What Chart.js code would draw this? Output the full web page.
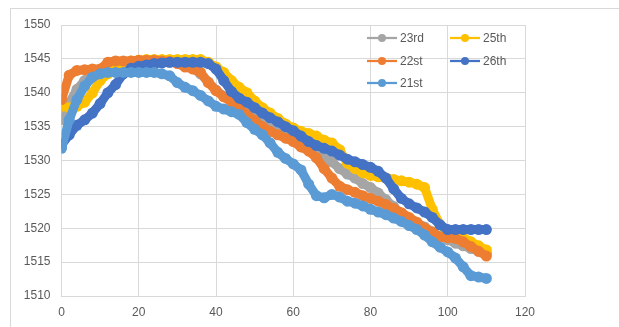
<!DOCTYPE html>
<html>
<head>
<meta charset="utf-8">
<script src="https://cdn.jsdelivr.net/npm/chart.js@4.4.1/dist/chart.umd.min.js"></script>
<style>
  html, body { margin: 0; padding: 0; background: #fff; }
  #wrap { position: relative; width: 619px; height: 327px; overflow: hidden; }
  #frame { position: absolute; left: 10px; top: 8px; width: 700px; height: 400px;
           border-top: 1px solid #d9d9d9; border-left: 1px solid #d9d9d9; }
  canvas { position: absolute; left: 0; top: 0; }
</style>
</head>
<body>
<div id="wrap">
  <div id="frame"></div>
  <canvas id="c" width="619" height="327"></canvas>
</div>
<script>
// x positions (shared by all series)
const xValues = [0,2,4,6,8,10,12,14,16,18,20,22,24,26,28,30,32,34,36,38,40,42,44,46,48,50,52,54,56,58,60,62,64,66,68,70,72,74,76,78,80,82,84,86,88,90,92,94,96,98,100,102,104,106,108,110];

const seriesNames = ['23rd', '25th', '22st', '26th', '21st'];

const s23rd = [1536.0,1538.5,1540.5,1541.8,1542.5,1543.2,1544.0,1544.4,1544.5,1544.5,1544.5,1544.5,1544.5,1544.5,1544.5,1544.5,1544.2,1543.6,1542.8,1541.6,1540.4,1539.5,1538.7,1537.8,1537.0,1536.2,1535.4,1534.7,1534.1,1533.5,1533.0,1532.4,1531.8,1531.2,1530.4,1529.8,1528.8,1528.0,1527.4,1526.6,1526.0,1525.2,1524.2,1523.2,1522.2,1521.3,1520.8,1520.2,1519.5,1518.8,1518.3,1517.8,1517.4,1517.0,1516.6,1516.3];

const s25th = [1538.0,1537.8,1538.0,1538.6,1540.0,1541.8,1542.8,1543.8,1544.4,1544.7,1544.8,1544.9,1544.9,1544.9,1544.9,1544.9,1544.9,1544.9,1544.9,1544.5,1543.8,1543.0,1541.8,1540.8,1540.0,1538.8,1537.8,1537.0,1536.2,1535.4,1534.8,1534.3,1534.0,1533.6,1533.0,1532.6,1531.6,1529.6,1528.8,1528.2,1527.8,1527.6,1527.4,1527.2,1527.0,1526.8,1526.5,1526.0,1522.8,1520.5,1519.6,1519.2,1518.6,1518.0,1517.4,1516.8];

const s22st = [1539.0,1542.6,1543.3,1543.4,1543.5,1543.5,1544.5,1544.7,1544.7,1544.7,1544.8,1544.8,1544.8,1544.7,1544.6,1544.3,1543.8,1543.5,1543.0,1541.5,1540.3,1539.4,1538.6,1537.6,1536.8,1535.9,1535.0,1534.3,1533.8,1533.3,1532.8,1532.0,1531.4,1530.4,1528.8,1527.4,1526.2,1525.7,1525.3,1524.8,1524.4,1524.0,1523.5,1522.9,1522.3,1521.6,1520.9,1520.0,1519.4,1518.7,1518.6,1518.5,1518.0,1517.3,1516.6,1515.9];

const s26th = [1532.3,1533.8,1535.2,1536.0,1537.0,1538.4,1540.0,1541.2,1542.8,1543.6,1543.9,1544.1,1544.3,1544.4,1544.5,1544.5,1544.5,1544.5,1544.5,1544.3,1543.5,1541.8,1540.2,1539.2,1538.6,1537.8,1537.0,1536.3,1535.7,1535.0,1534.4,1533.6,1532.8,1532.2,1531.8,1531.4,1530.8,1530.2,1529.8,1529.4,1529.0,1528.4,1527.4,1525.8,1524.4,1523.6,1523.0,1522.4,1521.6,1520.5,1519.8,1519.8,1519.8,1519.8,1519.8,1519.8];

const s21st = [1531.8,1536.0,1539.0,1541.0,1542.3,1542.8,1543.0,1543.0,1543.0,1543.0,1543.0,1543.0,1543.0,1542.8,1542.5,1541.5,1540.8,1540.3,1539.6,1538.8,1538.0,1537.6,1537.2,1536.8,1535.6,1534.6,1533.8,1532.6,1531.2,1530.3,1529.5,1528.6,1526.5,1524.8,1524.5,1525.0,1524.6,1524.0,1523.7,1523.3,1522.8,1522.4,1522.0,1521.5,1521.0,1520.4,1519.8,1519.0,1518.0,1517.2,1516.5,1515.6,1514.3,1513.0,1512.8,1512.6];

const xTicks = [0, 20, 40, 60, 80, 100, 120];
const yTicks = [1510, 1515, 1520, 1525, 1530, 1535, 1540, 1545, 1550];

const seriesValues = [s23rd, s25th, s22st, s26th, s21st];
const colors = ['#A5A5A5', '#FFC000', '#ED7D31', '#4472C4', '#5B9BD5'];
const drawOrder = [5, 4, 3, 2, 1];

const datasets = seriesNames.map((name, i) => ({
  label: name,
  data: xValues.map((x, j) => ({ x: x, y: seriesValues[i][j] })),
  borderColor: colors[i],
  backgroundColor: colors[i],
  borderWidth: 9,
  pointRadius: 5.5,
  pointBorderWidth: 0,
  pointBackgroundColor: colors[i],
  borderJoinStyle: 'round',
  borderCapStyle: 'round',
  tension: 0,
  order: drawOrder[i]
}));

const legendPos = [[367, 38], [450, 38], [367, 61], [450, 61], [367, 83]];
const excelLegend = {
  id: 'excelLegend',
  afterDraw(chart) {
    const ctx = chart.ctx;
    ctx.save();
    chart.data.datasets.forEach((ds, i) => {
      const [x, y] = legendPos[i];
      ctx.strokeStyle = ds.borderColor;
      ctx.lineWidth = 2.25;
      ctx.beginPath();
      ctx.moveTo(x, y);
      ctx.lineTo(x + 30, y);
      ctx.stroke();
      ctx.fillStyle = ds.borderColor;
      ctx.beginPath();
      ctx.arc(x + 15, y, 4, 0, Math.PI * 2);
      ctx.fill();
      ctx.fillStyle = '#595959';
      ctx.font = '12px "Liberation Sans", Arial, sans-serif';
      ctx.textBaseline = 'middle';
      ctx.textAlign = 'left';
      ctx.fillText(ds.label, x + 33, y + 0.5);
    });
    ctx.restore();
  }
};

const tickFont = { family: '"Liberation Sans", Arial, sans-serif', size: 12 };

new Chart(document.getElementById('c'), {
  type: 'line',
  data: { datasets: datasets },
  options: {
    responsive: false,
    animation: false,
    devicePixelRatio: 1,
    layout: { padding: { left: 10, top: 25, right: 94, bottom: 0 } },
    plugins: { legend: { display: false }, tooltip: { enabled: false } },
    scales: {
      x: {
        type: 'linear',
        min: xTicks[0],
        max: xTicks[xTicks.length - 1],
        afterBuildTicks: (s) => { s.ticks = xTicks.map(v => ({ value: v })); },
        afterFit: (s) => { s.height = 31; },
        grid: { color: '#d9d9d9', lineWidth: 1, drawTicks: false },
        border: { color: '#d9d9d9', width: 1 },
        ticks: { color: '#595959', font: tickFont, padding: 9, maxRotation: 0,
                 callback: (v) => String(v) }
      },
      y: {
        type: 'linear',
        min: yTicks[0],
        max: yTicks[yTicks.length - 1],
        afterBuildTicks: (s) => { s.ticks = yTicks.map(v => ({ value: v })); },
        afterFit: (s) => { s.width = 51.5; },
        grid: { color: '#d9d9d9', lineWidth: 1, drawTicks: false },
        border: { color: '#d9d9d9', width: 1 },
        ticks: { color: '#595959', font: tickFont, padding: 11,
                 callback: (v) => String(v) }
      }
    }
  },
  plugins: [excelLegend]
});
</script>
</body>
</html>
